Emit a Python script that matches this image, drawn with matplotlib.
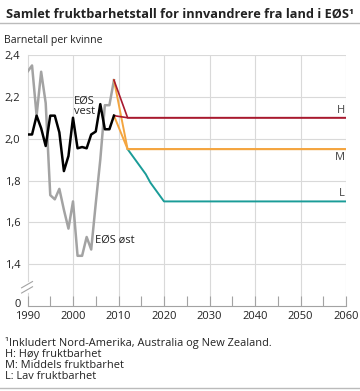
import matplotlib
matplotlib.use("Agg")
import matplotlib.pyplot as plt
import matplotlib.transforms as mtransforms
from matplotlib.lines import Line2D

plt.rcParams['font.family'] = ['Open Sans', 'DejaVu Sans']

# Data
years_hist = list(range(1990, 2010))
eos_ost = [2.32, 2.35, 2.11, 2.32, 2.17, 1.73, 1.71, 1.76, 1.66, 1.57,
           1.70, 1.44, 1.44, 1.53, 1.47, 1.69, 1.90, 2.16, 2.16, 2.28]
eos_vest = [2.02, 2.02, 2.11, 2.05, 1.965, 2.11, 2.11, 2.03, 1.845, 1.917,
            2.10, 1.954, 1.96, 1.954, 2.02, 2.034, 2.165, 2.045, 2.045, 2.11]

proj_years = [2009, 2012, 2060]
high_from_ost = [2.28, 2.10, 2.10]
high_from_vest = [2.11, 2.10, 2.10]
mid_from_ost = [2.28, 1.95, 1.95]
mid_from_vest = [2.11, 1.95, 1.95]
low_years = [2012, 2013, 2014, 2015, 2016, 2017, 2018, 2019, 2020, 2060]
low_vals = [1.95, 1.92, 1.89, 1.86, 1.83, 1.79, 1.76, 1.73, 1.70, 1.70]

xticks = list(range(1990, 2061, 10))
yticks = [1.2, 1.4, 1.6, 1.8, 2.0, 2.2, 2.4]
ytick_labels = ['0', '1,4', '1,6', '1,8', '2,0', '2,2', '2,4']

RED = '#a8192e'
ORANGE = '#f4a53f'
TEAL = '#1a9c98'
GREY = '#a3a3a3'
GRID = '#d9d9d9'
TXT = '#222222'

W, H = 360, 391
fig = plt.figure(figsize=(W / 100, H / 100), dpi=100)
ax = fig.add_axes([27.5 / W, (H - 306) / H, (346 - 27.5) / W, (306 - 55) / H])

ax.set_xlim(1990, 2060)
ax.set_ylim(1.2, 2.4)
for s in ['top', 'right', 'left']:
    ax.spines[s].set_visible(False)
ax.spines['bottom'].set_color(GREY)
ax.spines['bottom'].set_linewidth(0.8)

for v in yticks[1:]:
    ax.axhline(v, color=GRID, lw=0.8, zorder=0)
for x in xticks[1:]:
    ax.axvline(x, color=GRID, lw=0.8, zorder=0)
# left axis line with break
ax.plot([1990, 1990], [1.32, 2.4], color=GRID, lw=0.8, zorder=0, clip_on=False)
ax.plot([1990, 1990], [1.2, 1.26], color=GRID, lw=0.8, zorder=0, clip_on=False)
for off in (0.0, 0.025):
    ax.add_line(Line2D([1988.7, 1991.1], [1.262 + off, 1.292 + off], color=GREY, lw=0.8,
                       clip_on=False))

ax.set_xticks(xticks)
ax.set_xticks(list(range(1995, 2060, 10)), minor=True)
ax.set_yticks(yticks)
ax.set_yticklabels(ytick_labels)
ax.tick_params(axis='x', which='both', direction='in', length=7, color=GREY, width=0.8,
               labelsize=8, labelcolor=TXT, pad=3.5)
ax.tick_params(axis='y', length=0, labelsize=8, labelcolor=TXT, pad=5)
# lift the "0" label a little so it sits above the year labels
zero_lbl = ax.get_yticklabels()[0]
zero_lbl.set_transform(zero_lbl.get_transform() +
                       mtransforms.ScaledTranslation(0, 3 / 100, fig.dpi_scale_trans))

ax.plot(years_hist, eos_ost, color=GREY, lw=1.8, zorder=3)
ax.plot(years_hist, eos_vest, color='black', lw=1.8, zorder=4)
ax.plot(low_years, low_vals, color=TEAL, lw=1.4, zorder=3)
ax.plot(proj_years, mid_from_ost, color=ORANGE, lw=1.4, zorder=3)
ax.plot(proj_years, mid_from_vest, color=ORANGE, lw=1.4, zorder=3)
ax.plot(proj_years, high_from_ost, color=RED, lw=1.2, zorder=3)
ax.plot(proj_years, high_from_vest, color=RED, lw=1.2, zorder=3)

ax.text(2002.5, 2.155, 'EØS\nvest', ha='center', va='center', fontsize=8, color=TXT,
        linespacing=0.95)
ax.text(2004.8, 1.514, 'EØS øst', ha='left', va='center', fontsize=8, color=TXT)
ax.text(2059.8, 2.137, 'H', ha='right', va='center', fontsize=8, color='#444444')
ax.text(2059.8, 1.909, 'M', ha='right', va='center', fontsize=8, color='#444444')
ax.text(2059.8, 1.736, 'L', ha='right', va='center', fontsize=8, color='#444444')

fig.text(6 / W, 1 - 14 / H, 'Samlet fruktbarhetstall for innvandrere fra land i EØS¹',
         ha='left', va='center', fontsize=9.2, fontweight='bold', color=TXT)
fig.add_artist(Line2D([0, 1], [1 - 23 / H, 1 - 23 / H], color='#bbbbbb', lw=1))
fig.text(4 / W, 1 - 40 / H, 'Barnetall per kvinne', ha='left', va='center', fontsize=7.6,
         color=TXT)

notes = ['¹Inkludert Nord-Amerika, Australia og New Zealand.', 'H: Høy fruktbarhet',
         'M: Middels fruktbarhet', 'L: Lav fruktbarhet']
for i, n in enumerate(notes):
    fig.text(5 / W, 1 - (343 + 11.3 * i) / H, n, ha='left', va='center', fontsize=7.9,
             color=TXT)
fig.add_artist(Line2D([0, 1], [1 - 388 / H, 1 - 388 / H], color='#bbbbbb', lw=1))

fig.savefig('out.png', dpi=100)
